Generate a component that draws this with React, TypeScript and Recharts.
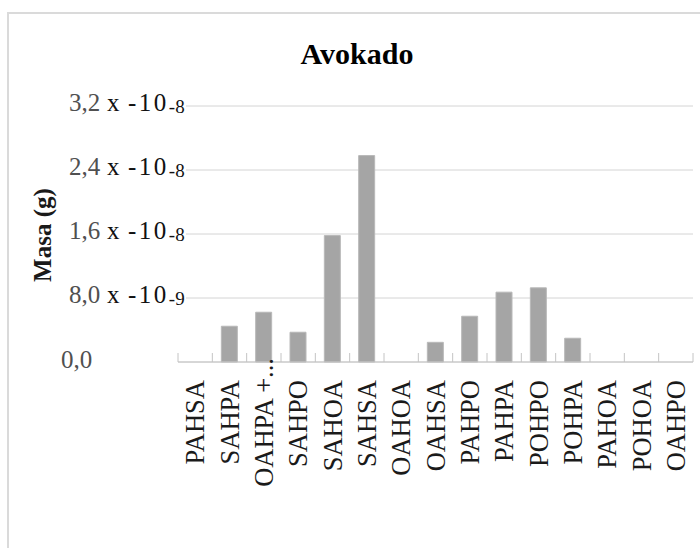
import { BarChart, Bar, XAxis, YAxis, CartesianGrid } from 'recharts';

const categories = [
  'PAHSA', 'SAHPA', 'OAHPA +...', 'SAHPO', 'SAHOA', 'SAHSA', 'OAHOA', 'OAHSA',
  'PAHPO', 'PAHPA', 'POHPO', 'POHPA', 'PAHOA', 'POHOA', 'OAHPO',
];
const masa = [
  0, 4.47e-9, 6.22e-9, 3.72e-9, 15.8e-9, 25.8e-9, 0, 2.46e-9,
  5.72e-9, 8.73e-9, 9.27e-9, 2.97e-9, 0, 0, 0,
];
const yTicks = [0, 8e-9, 16e-9, 24e-9, 32e-9];
const yTickMantissa = ['0,0', '8,0', '1,6', '2,4', '3,2'];
const yTickExponent = ['', '-9', '-8', '-8', '-8'];

const data = categories.map((name, i) => ({ name, masa: masa[i] }));

const W = 700;
const H = 548;
const PLOT_LEFT = 178;
const PLOT_RIGHT = 693;
const PLOT_TOP = 106;
const BASE = 362;
const serif = 'Liberation Serif, Times New Roman, serif';

function YTick({ y, payload, index }: any) {
  const i = index ?? yTicks.indexOf(payload.value);
  if (i === 0) {
    return (
      <text x={61} y={y + 6} fontFamily={serif} fontSize={25} fill="#505050">
        {yTickMantissa[i]}
      </text>
    );
  }
  return (
    <g>
      <rect x={PLOT_LEFT} y={y - 2} width={8} height={4} fill="#fff" />
      <text y={y + 5} fontFamily={serif} fontSize={25}>
        <tspan x={69} fill="#505050">{yTickMantissa[i]}</tspan>
        <tspan x={107} fill="#111">x</tspan>
        <tspan x={128} fill="#111" letterSpacing={2.5}>-10</tspan>
        <tspan dy={2} fontSize={19} fill="#111">{yTickExponent[i]}</tspan>
      </text>
    </g>
  );
}

function XTick({ x, payload, index }: any) {
  const band = (PLOT_RIGHT - PLOT_LEFT) / categories.length;
  const left = x - band / 2;
  const label = payload.value as string;
  const endY = label.includes('+') ? BASE - 4 : BASE + 18;
  const tx = x + 9;
  return (
    <g>
      <line x1={left} x2={left} y1={BASE} y2={BASE - 9} stroke="#c4c4c4" />
      {index === categories.length - 1 && (
        <line x1={left + band} x2={left + band} y1={BASE} y2={BASE - 9} stroke="#c4c4c4" />
      )}
      <text
        x={tx}
        y={endY}
        transform={`rotate(-90 ${tx} ${endY})`}
        textAnchor="end"
        fontFamily={serif}
        fontSize={26.5}
        fill="#1a1a1a"
      >
        {label}
      </text>
    </g>
  );
}

export default function App() {
  return (
    <div style={{ position: 'absolute', left: 0, top: 0, width: W, height: H, overflow: 'hidden', background: '#fff' }}>
      <div
        style={{
          position: 'absolute', left: 7, top: 12, width: 800, height: 800,
          border: '2px solid #dadada', boxSizing: 'border-box',
        }}
      />
      <div style={{ position: 'absolute', left: 0, top: 0 }}>
        <BarChart
          width={W}
          height={H}
          data={data}
          margin={{ top: PLOT_TOP, right: W - PLOT_RIGHT, bottom: 0, left: 0 }}
        >
          <CartesianGrid vertical={false} stroke="#d4d4d4" />
          <XAxis
            dataKey="name"
            interval={0}
            height={H - BASE}
            axisLine={{ stroke: '#c4c4c4' }}
            tickLine={false}
            tick={<XTick />}
          />
          <YAxis
            width={PLOT_LEFT}
            domain={[0, 32e-9]}
            ticks={yTicks}
            axisLine={false}
            tickLine={false}
            tick={<YTick />}
          />
          <Bar dataKey="masa" fill="#a5a5a5" stroke="#b8b8b8" barSize={16} isAnimationActive={false} />
        </BarChart>
      </div>
      <svg width={W} height={H} style={{ position: 'absolute', left: 0, top: 0, pointerEvents: 'none' }}>
        <text x={357} y={64} textAnchor="middle" fontFamily={serif} fontSize={30} fontWeight="bold" fill="#000">
          Avokado
        </text>
        <text
          x={51}
          y={235}
          transform="rotate(-90 51 235)"
          textAnchor="middle"
          fontFamily={serif}
          fontSize={25}
          fontWeight="bold"
          fill="#1a1a1a"
        >
          Masa (g)
        </text>
      </svg>
    </div>
  );
}
